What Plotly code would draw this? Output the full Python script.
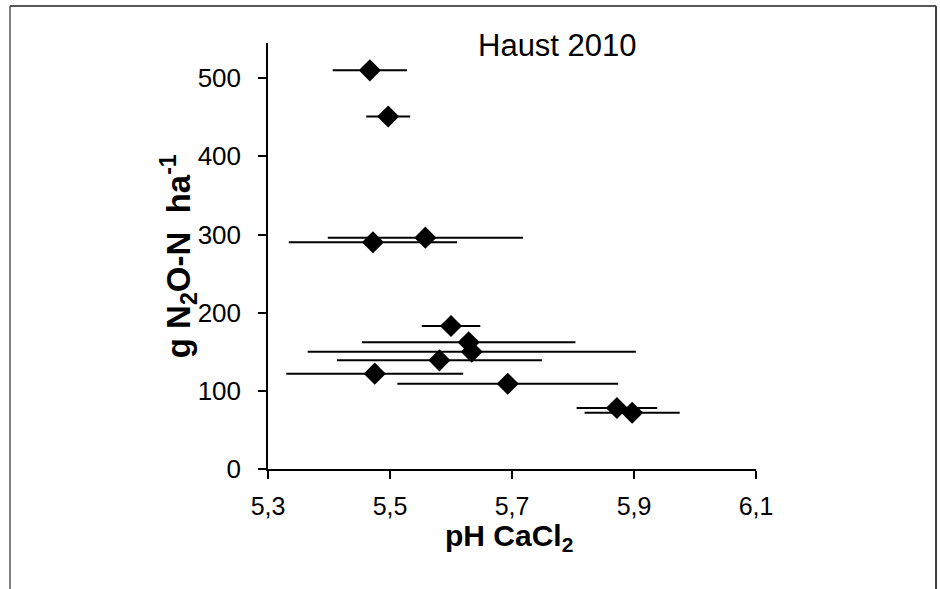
import plotly.graph_objects as go

# Data
ph_cacl2 = [5.467, 5.497, 5.558, 5.472, 5.600, 5.629, 5.634, 5.581, 5.475, 5.693, 5.872, 5.897]
n2o_n = [510, 451, 296, 290, 183, 162, 150, 139, 122, 109, 78, 72]
ph_err = [0.061, 0.036, 0.160, 0.138, 0.048, 0.175, 0.269, 0.168, 0.145, 0.181, 0.066, 0.078]

x_tickvals = [5.3, 5.5, 5.7, 5.9, 6.1]
x_ticktext = ["5,3", "5,5", "5,7", "5,9", "6,1"]
y_tickvals = [0, 100, 200, 300, 400, 500]

FONT = "Arial, Liberation Sans, sans-serif"

fig = go.Figure()
fig.add_trace(go.Scatter(
    x=ph_cacl2, y=n2o_n, mode="markers",
    marker=dict(symbol="diamond", size=17, color="black"),
    error_x=dict(type="data", array=ph_err, symmetric=True,
                 color="black", thickness=2, width=0),
    showlegend=False,
))

fig.update_layout(
    width=940, height=589,
    margin=dict(l=268, r=184, t=43, b=120),
    paper_bgcolor="white", plot_bgcolor="white",
    font=dict(family=FONT, color="black", size=25),
    xaxis=dict(range=[5.3, 6.1], tickvals=x_tickvals, ticktext=x_ticktext,
               showgrid=False, zeroline=False, showline=True, linecolor="black",
               linewidth=1.5, ticks="outside", ticklen=8, tickwidth=1.5,
               tickcolor="black", ticklabelstandoff=6,
               tickfont=dict(size=25, family=FONT)),
    yaxis=dict(range=[0, 545], tickvals=y_tickvals,
               showgrid=False, zeroline=False, showline=True, linecolor="black",
               linewidth=1.5, ticks="outside", ticklen=8, tickwidth=1.5,
               tickcolor="black", ticklabelstandoff=12,
               tickfont=dict(size=26, family=FONT)),
    annotations=[
        dict(text="Haust 2010", xref="paper", yref="paper", x=0.594, y=0.995,
             showarrow=False, font=dict(size=31, family=FONT),
             xanchor="center", yanchor="middle"),
        dict(text="<b>pH CaCl<sub>2</sub></b>", xref="paper", yref="paper",
             x=0.494, y=-0.16, showarrow=False, font=dict(size=30, family=FONT),
             xanchor="center", yanchor="middle"),
        dict(text="<b>g N<sub>2</sub>O-N  ha<sup>-1</sup></b>", xref="paper", yref="paper",
             x=-0.184, y=0.5, showarrow=False, textangle=-90,
             font=dict(size=33, family=FONT), xanchor="center", yanchor="middle"),
    ],
    shapes=[
        dict(type="line", xref="paper", yref="paper", x0=-0.5287, x1=-0.5287,
             y0=-0.35, y1=1.0869, line=dict(color="#808080", width=2)),
        dict(type="line", xref="paper", yref="paper", x0=-0.5287, x1=1.3689,
             y0=1.0869, y1=1.0869, line=dict(color="#595959", width=2)),
        dict(type="line", xref="paper", yref="paper", x0=1.3689, x1=1.3689,
             y0=-0.35, y1=1.0869, line=dict(color="#404040", width=2)),
    ],
)

fig.write_html("out.html")
